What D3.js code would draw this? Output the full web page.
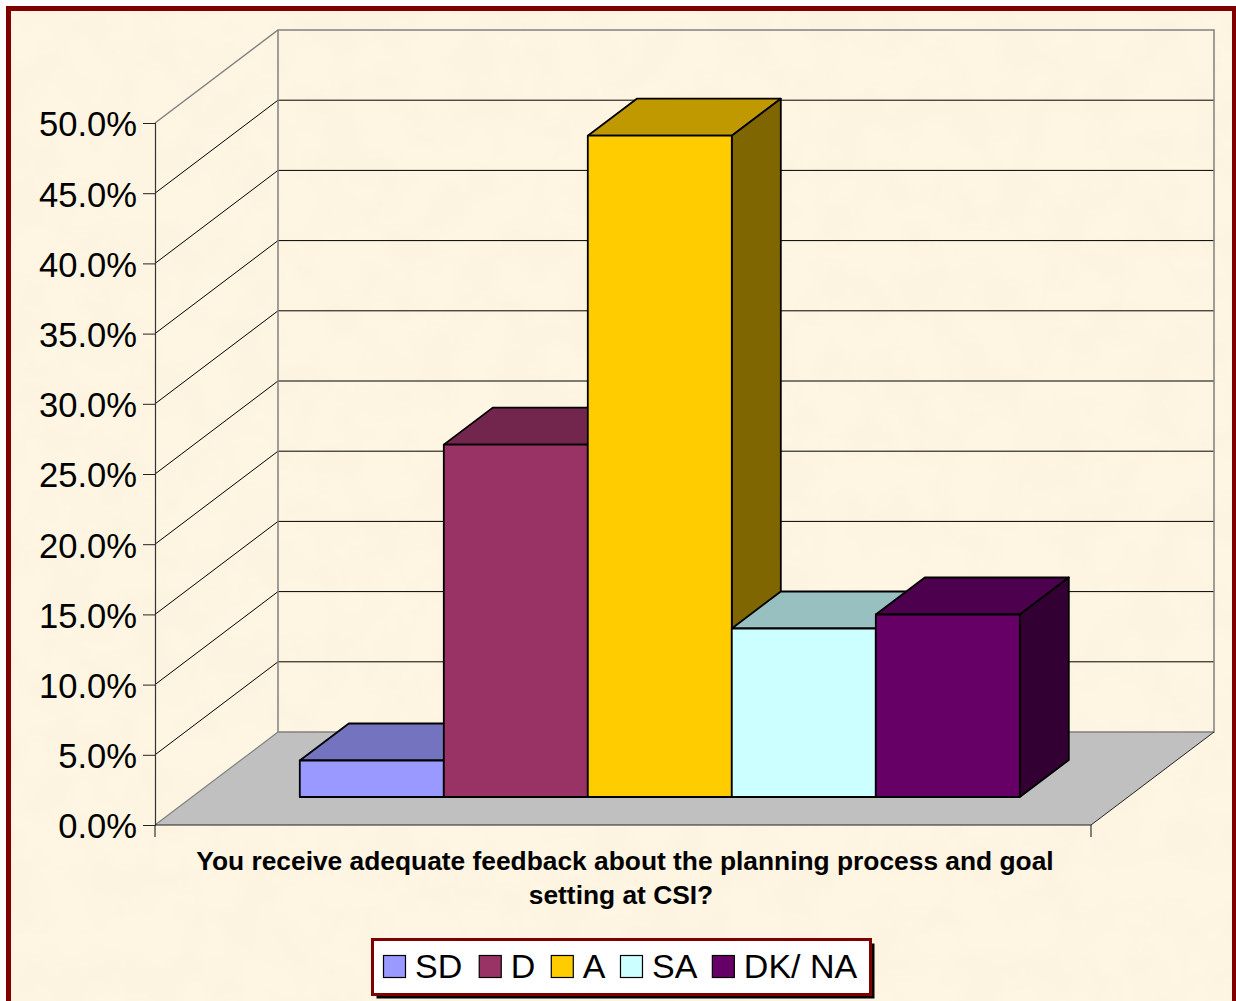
<!DOCTYPE html>
<html>
<head>
<meta charset="utf-8">
<script src="https://d3js.org/d3.v7.min.js"></script>
<style>
    html, body { margin: 0; padding: 0; background: #fff; overflow: hidden; }
    svg { display: block; font-family: "Liberation Sans", Arial, sans-serif; }
</style>
</head>
<body>
<svg id="chart" width="1236" height="1001"></svg>
<script>
const seriesNames = ['SD', 'D', 'A', 'SA', 'DK/ NA'];
const seriesValues = [2.6, 25.1, 47.1, 12.0, 13.0];
const seriesColors = ['#9999ff', '#993366', '#ffcc00', '#ccffff', '#660066'];
const yTicks = [0, 5, 10, 15, 20, 25, 30, 35, 40, 45, 50];
const titleLines = [
    'You receive adequate feedback about the planning process and goal',
    'setting at CSI?'
];

const svg = d3.select('#chart');

// paper texture for the slide background
const defs = svg.append('defs');
const paper = defs.append('filter')
    .attr('id', 'paper')
    .attr('x', 0).attr('y', 0).attr('width', 1).attr('height', 1);
paper.append('feTurbulence')
    .attr('type', 'fractalNoise')
    .attr('baseFrequency', 0.022)
    .attr('numOctaves', 3)
    .attr('seed', 7);
paper.append('feColorMatrix')
    .attr('type', 'matrix')
    .attr('values', '0 0 0 0 0.975  0 0 0 0 0.905  0 0 0 0 0.75  3.2 0 0 0 -1.15');
paper.append('feComposite').attr('in2', 'SourceGraphic').attr('operator', 'over');

svg.append('rect')
    .attr('x', 8.5).attr('y', 8.5)
    .attr('width', 1226).attr('height', 1040)
    .attr('fill', '#fef5e2');
svg.append('rect')
    .attr('x', 8.5).attr('y', 8.5)
    .attr('width', 1226).attr('height', 1040)
    .attr('fill', '#fef5e2')
    .attr('filter', 'url(#paper)');
svg.append('rect')
    .attr('x', 8.5).attr('y', 8.5)
    .attr('width', 1226).attr('height', 1040)
    .attr('fill', 'none')
    .attr('stroke', '#800000')
    .attr('stroke-width', 5);

// front plane of the 3d box, and how far back it goes
const plot = { left: 155, right: 1091, top: 123, bottom: 825 };
const depth = { x: 123, y: -93 };
const barInset = { x: 37, y: -28 };
const barDepth = { x: 49, y: -37 };
const gapWidth = 1.5;

const y = d3.scaleLinear().domain([0, 50]).range([plot.bottom, plot.top]);

const plotWidth = plot.right - plot.left;
const barUnit = plotWidth / (seriesNames.length + gapWidth);
const x = d3.scaleBand()
    .domain(seriesNames)
    .range([
        plot.left + barInset.x + barUnit * gapWidth / 2 - 0.2,
        plot.right + barInset.x - barUnit * gapWidth / 2 - 0.2
    ]);

const pts = a => a.map(p => p.join(',')).join(' ');

// floor
svg.append('polygon')
    .attr('points', pts([
        [plot.left, plot.bottom],
        [plot.left + depth.x, plot.bottom + depth.y],
        [plot.right + depth.x, plot.bottom + depth.y],
        [plot.right, plot.bottom]
    ]))
    .attr('fill', '#c0c0c0');

// gridlines over side and back wall
svg.append('g').selectAll('polyline')
    .data(yTicks.filter(d => d > 0 && d < 50))
    .enter().append('polyline')
    .attr('points', d => pts([
        [plot.left, y(d)],
        [plot.left + depth.x, y(d) + depth.y],
        [plot.right + depth.x, y(d) + depth.y]
    ]))
    .attr('fill', 'none')
    .attr('stroke', '#000')
    .attr('stroke-width', 1);

// wall outline
svg.append('polyline')
    .attr('points', pts([
        [plot.left, y(50)],
        [plot.left + depth.x, y(50) + depth.y],
        [plot.right + depth.x, y(50) + depth.y],
        [plot.right + depth.x, y(0) + depth.y],
        [plot.left + depth.x, y(0) + depth.y],
        [plot.left + depth.x, y(50) + depth.y]
    ]))
    .attr('fill', 'none')
    .attr('stroke', '#808080')
    .attr('stroke-width', 1.5);
svg.append('line')
    .attr('x1', plot.left).attr('y1', y(0))
    .attr('x2', plot.left + depth.x).attr('y2', y(0) + depth.y)
    .attr('stroke', '#808080')
    .attr('stroke-width', 1.2);
svg.append('line')
    .attr('x1', plot.right).attr('y1', y(0))
    .attr('x2', plot.right + depth.x).attr('y2', y(0) + depth.y)
    .attr('stroke', '#222')
    .attr('stroke-width', 1);

// bars, left to right so each front covers the previous side
const bars = svg.append('g').selectAll('g')
    .data(seriesNames.map((name, i) => ({
        name: name,
        value: seriesValues[i],
        color: seriesColors[i]
    })))
    .enter().append('g')
    .attr('stroke', '#000')
    .attr('stroke-width', 1.8)
    .attr('stroke-linejoin', 'round');

const x0 = d => x(d.name);
const x1 = d => x(d.name) + x.bandwidth();
const yBase = y(0) + barInset.y;
const yTop = d => y(d.value) + barInset.y;

bars.append('polygon')
    .attr('points', d => pts([
        [x0(d), yTop(d)],
        [x0(d) + barDepth.x, yTop(d) + barDepth.y],
        [x1(d) + barDepth.x, yTop(d) + barDepth.y],
        [x1(d), yTop(d)]
    ]))
    .attr('fill', d => d3.rgb(d.color).darker(0.8));

bars.append('polygon')
    .attr('points', d => pts([
        [x1(d), yTop(d)],
        [x1(d) + barDepth.x, yTop(d) + barDepth.y],
        [x1(d) + barDepth.x, yBase + barDepth.y],
        [x1(d), yBase]
    ]))
    .attr('fill', d => d3.rgb(d.color).darker(1.94));

bars.append('rect')
    .attr('x', x0)
    .attr('y', yTop)
    .attr('width', x.bandwidth())
    .attr('height', d => yBase - yTop(d))
    .attr('fill', d => d.color);

// value axis
const yAxis = svg.append('g')
    .attr('transform', `translate(${plot.left},0)`)
    .call(d3.axisLeft(y)
        .tickValues(yTicks)
        .tickFormat(d => d.toFixed(1) + '%')
        .tickSize(12)
        .tickPadding(6));
yAxis.select('.domain').attr('stroke', '#333').attr('stroke-width', 1.2);
yAxis.selectAll('.tick line').attr('stroke', '#222');
yAxis.selectAll('text')
    .attr('font-family', '"Liberation Sans", Arial, sans-serif')
    .attr('font-size', 34.6)
    .attr('fill', '#000')
    .attr('dy', '0.375em');

// front edge of the floor and the stubs below it
svg.append('line')
    .attr('x1', plot.left).attr('y1', plot.bottom)
    .attr('x2', plot.right).attr('y2', plot.bottom)
    .attr('stroke', '#222')
    .attr('stroke-width', 1.2);
svg.selectAll('.stub')
    .data([plot.left, plot.right])
    .enter().append('line')
    .attr('class', 'stub')
    .attr('x1', d => d).attr('y1', plot.bottom)
    .attr('x2', d => d).attr('y2', plot.bottom + 12)
    .attr('stroke', '#333')
    .attr('stroke-width', 1.2);

// axis title
svg.append('g').selectAll('text')
    .data(titleLines)
    .enter().append('text')
    .attr('x', (d, i) => i === 0 ? 625 : 621)
    .attr('y', (d, i) => 870 + i * 34)
    .attr('text-anchor', 'middle')
    .attr('font-size', 26.35)
    .attr('font-weight', 'bold')
    .attr('fill', '#000')
    .text(d => d);

// legend
const legendBox = { x: 372.5, y: 939.5, width: 498, height: 55 };
const legendGaps = [17, 16, 15, 15, 0];
svg.append('rect')
    .attr('x', legendBox.x + 4).attr('y', legendBox.y + 4)
    .attr('width', legendBox.width).attr('height', legendBox.height)
    .attr('fill', '#000');
svg.append('rect')
    .attr('x', legendBox.x).attr('y', legendBox.y)
    .attr('width', legendBox.width).attr('height', legendBox.height)
    .attr('fill', '#fff')
    .attr('stroke', '#800000')
    .attr('stroke-width', 3);

let legendX = 383.5;
seriesNames.forEach((name, i) => {
    svg.append('rect')
        .attr('x', legendX).attr('y', 955.5)
        .attr('width', 22).attr('height', 22)
        .attr('fill', seriesColors[i])
        .attr('stroke', '#000')
        .attr('stroke-width', 1.2);
    const label = svg.append('text')
        .attr('x', legendX + 31.5)
        .attr('y', 978)
        .attr('font-size', 34)
        .attr('fill', '#000')
        .text(name);
    legendX += 31.5 + label.node().getComputedTextLength() + legendGaps[i];
});
</script>
</body>
</html>
